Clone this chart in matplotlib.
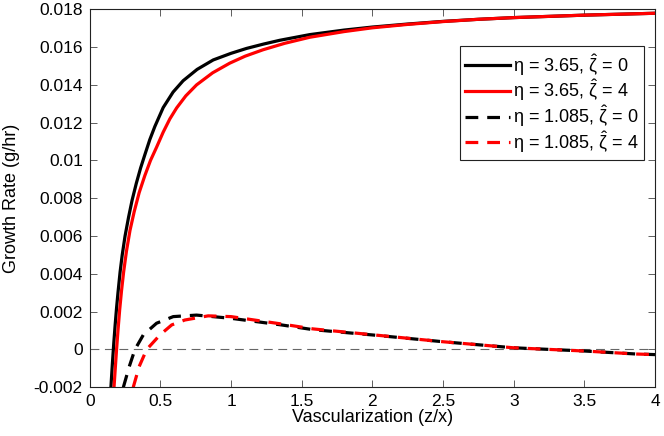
import matplotlib
matplotlib.use("Agg")
import matplotlib.pyplot as plt
from matplotlib.ticker import FuncFormatter

# values
x_eta365_z0 = [0.150, 0.160, 0.170, 0.180, 0.190, 0.200, 0.215, 0.230, 0.250, 0.275, 0.300,
               0.330, 0.360, 0.390, 0.425, 0.461, 0.52, 0.59, 0.661, 0.76, 0.874, 1.0, 1.11,
               1.23, 1.345, 1.557, 1.8, 2.0, 2.25, 2.5, 2.75, 3.0, 3.5, 4.0]
y_eta365_z0 = [-0.002, -0.0008, 0.0003, 0.0013, 0.0022, 0.0030, 0.0041, 0.0050, 0.0060, 0.0070,
               0.0079, 0.0088, 0.0096, 0.0103, 0.0111, 0.0118, 0.0128, 0.01362, 0.01422, 0.01482,
               0.01532, 0.01567, 0.01593, 0.01616, 0.01636, 0.01666, 0.0169, 0.01706, 0.01722,
               0.01736, 0.01747, 0.01756, 0.01769, 0.01779]

x_eta365_z4 = [0.172, 0.180, 0.190, 0.200, 0.212, 0.225, 0.240, 0.260, 0.285, 0.315, 0.350,
               0.390, 0.430, 0.473, 0.52, 0.567, 0.615, 0.68, 0.756, 0.87, 0.991, 1.1, 1.227,
               1.38, 1.557, 1.8, 2.0, 2.25, 2.5, 2.75, 3.0, 3.5, 4.0]
y_eta365_z4 = [-0.002, -0.0011, 0.0, 0.0010, 0.0021, 0.0031, 0.0041, 0.0052, 0.0063, 0.0073,
               0.0083, 0.0092, 0.0100, 0.0107, 0.0115, 0.0122, 0.01278, 0.01342, 0.01400,
               0.01464, 0.01515, 0.01552, 0.01586, 0.0162, 0.01652, 0.01682, 0.01702, 0.0172,
               0.01735, 0.01747, 0.01756, 0.01769, 0.01779]

x_eta1085_z0 = [0.238, 0.28, 0.32, 0.379, 0.473, 0.591, 0.756, 1.0, 1.357, 1.58, 2.0, 2.5, 3.0,
                3.5, 3.87, 4.0]
y_eta1085_z0 = [-0.002, -0.0009, 0.0, 0.00077, 0.00139, 0.00174, 0.00182, 0.00165, 0.0013,
                0.00105, 0.00077, 0.00041, 0.00009, -0.00008, -0.00024, -0.00027]

x_eta1085_z4 = [0.308, 0.35, 0.403, 0.497, 0.58, 0.673, 0.838, 1.0, 1.357, 1.58, 2.0, 2.5, 3.0,
                3.5, 3.87, 4.0]
y_eta1085_z4 = [-0.002, -0.0009, 0.0, 0.00077, 0.0013, 0.00156, 0.00178, 0.00174, 0.00135,
                0.00109, 0.00078, 0.00041, 0.00009, -0.00008, -0.00024, -0.00027]

labels = [r"η = 3.65, $\hat{\zeta}$ = 0", r"η = 3.65, $\hat{\zeta}$ = 4",
          r"η = 1.085, $\hat{\zeta}$ = 0", r"η = 1.085, $\hat{\zeta}$ = 4"]

x_ticks = [0, 0.5, 1, 1.5, 2, 2.5, 3, 3.5, 4]
y_ticks = [-0.002, 0, 0.002, 0.004, 0.006, 0.008, 0.01, 0.012, 0.014, 0.016, 0.018]

plt.rcParams["font.family"] = ["Liberation Sans", "DejaVu Sans"]
plt.rcParams["mathtext.fontset"] = "custom"
plt.rcParams["mathtext.rm"] = "Liberation Sans"
plt.rcParams["mathtext.it"] = "Liberation Sans"

fig = plt.figure(figsize=(6.64, 4.36), dpi=100)
ax = fig.add_axes([0.1351, 0.1117, 0.8514, 0.867])

lw = 2.3
ax.axhline(0, color="#666666", lw=0.8, dashes=(8, 5))
ax.plot(x_eta365_z0, y_eta365_z0, color="black", lw=lw, label=labels[0])
ax.plot(x_eta365_z4, y_eta365_z4, color="#ff0000", lw=lw, label=labels[1])
ax.plot(x_eta1085_z0, y_eta1085_z0, color="black", lw=lw, dashes=(4, 2.8), label=labels[2])
ax.plot(x_eta1085_z4, y_eta1085_z4, color="#ff0000", lw=lw, dashes=(4, 2.8), label=labels[3])

ax.set_xlim(0, 4)
ax.set_ylim(-0.002, 0.018)
ax.set_xticks(x_ticks)
ax.set_yticks(y_ticks)
ax.xaxis.set_major_formatter(FuncFormatter(lambda v, p: "%g" % v))
ax.yaxis.set_major_formatter(FuncFormatter(lambda v, p: "%g" % round(v, 4)))
ax.tick_params(direction="in", length=5, width=0.6, labelsize=12.5, top=True, right=True,
               color="#444444", pad=5)
for s in ax.spines.values():
    s.set_linewidth(0.8)
    s.set_color("#222222")

ax.set_xlabel("Vascularization (z/x)", fontsize=13, labelpad=0)
ax.set_ylabel("Growth Rate (g/hr)", fontsize=13, labelpad=10)

leg = ax.legend(loc="upper right", bbox_to_anchor=(0.98, 0.902), fontsize=13, handlelength=2.5,
                handletextpad=0.15, labelspacing=0.0, borderpad=0.3, borderaxespad=0,
                fancybox=False, framealpha=1)
leg.get_frame().set_edgecolor("#222222")
leg.get_frame().set_linewidth(0.8)

fig.savefig("out.png", dpi=100)
